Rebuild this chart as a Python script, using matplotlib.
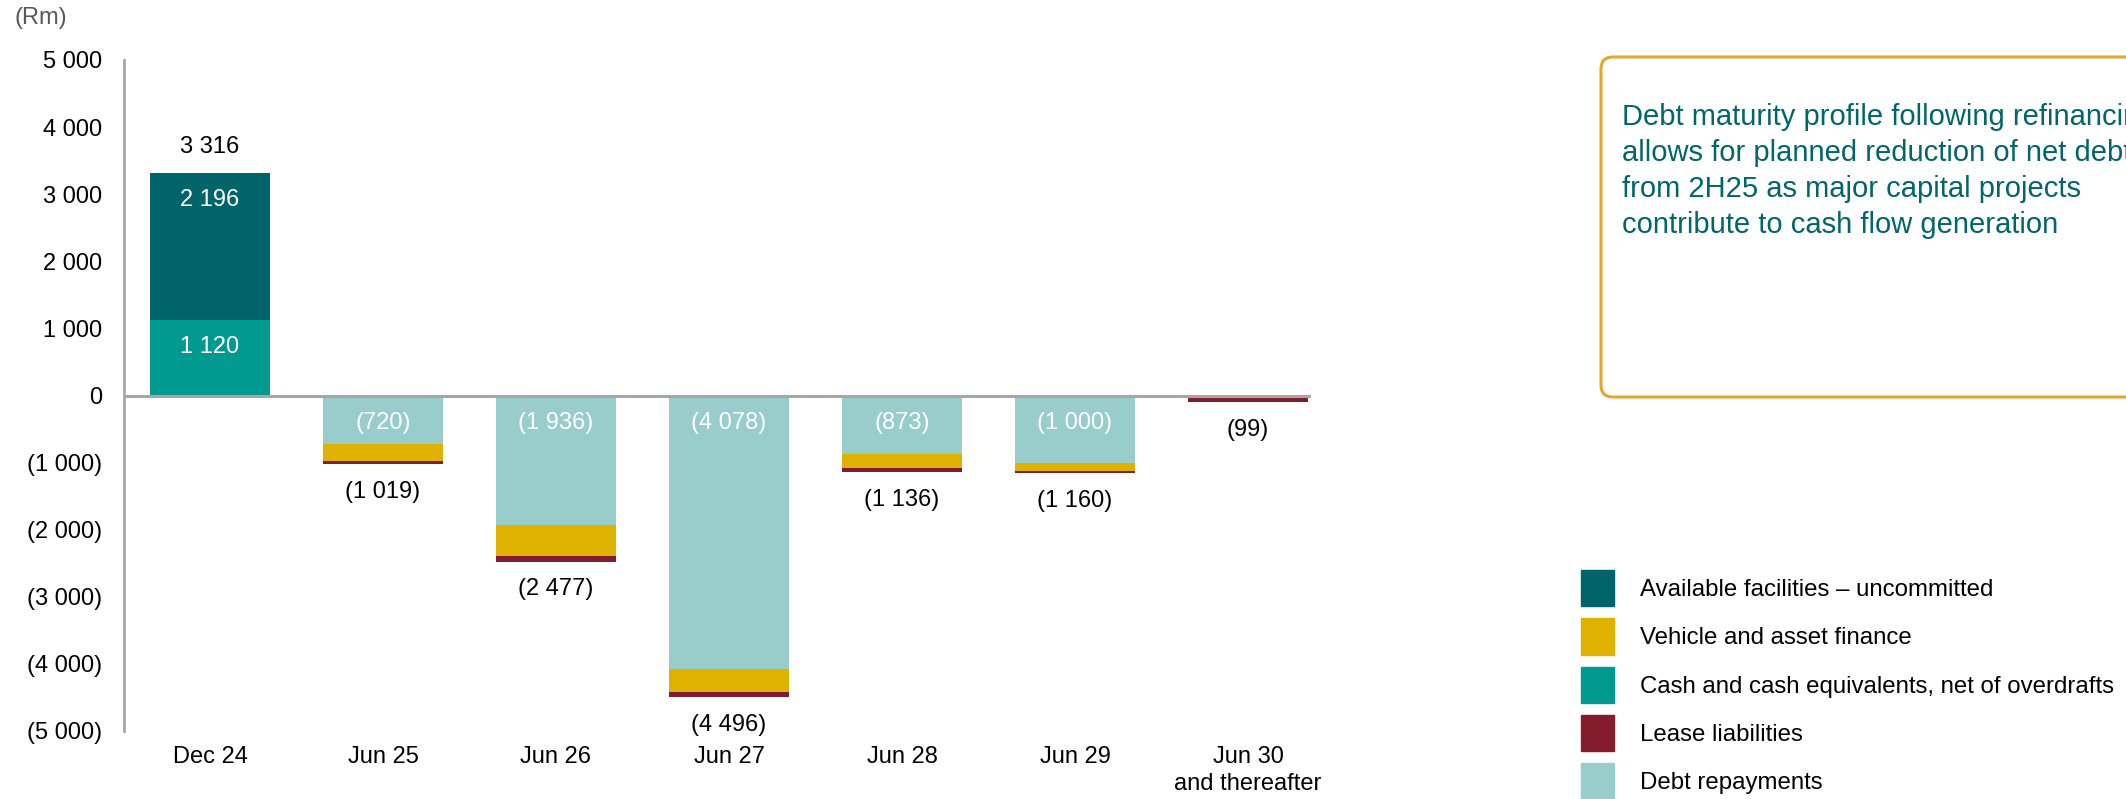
import numpy as np
import matplotlib.pyplot as plt
from matplotlib.patches import FancyBboxPatch, Patch
from matplotlib.transforms import IdentityTransform

plt.rcParams['font.family'] = ['Liberation Sans', 'DejaVu Sans']

# Debt maturity profile (Rm)
periods = ['Dec 24', 'Jun 25', 'Jun 26', 'Jun 27', 'Jun 28', 'Jun 29', 'Jun 30\nand thereafter']
cash = [1120, 0, 0, 0, 0, 0, 0]
facilities = [2196, 0, 0, 0, 0, 0, 0]
debt_repayments = [0, -720, -1936, -4078, -873, -1000, 0]
vehicle_finance = [0, -259, -451, -338, -208, -120, -25]
lease_liabilities = [0, -40, -90, -80, -55, -40, -74]
y_ticks = [5000, 4000, 3000, 2000, 1000, 0, -1000, -2000, -3000, -4000, -5000]

legend_labels = ['Available facilities – uncommitted', 'Vehicle and asset finance',
                 'Cash and cash equivalents, net of overdrafts', 'Lease liabilities',
                 'Debt repayments']
note = ('Debt maturity profile following refinancing\n'
        'allows for planned reduction of net debt\n'
        'from 2H25 as major capital projects\n'
        'contribute to cash flow generation')

C_FAC = '#00646A'
C_VEH = '#DFB100'
C_CASH = '#009A91'
C_LEASE = '#841C2D'
C_DEBT = '#98CDCC'
C_AXIS = '#A6A6A6'


def fmt(v):
    s = f'{abs(v):,}'.replace(',', ' ')
    return f'({s})' if v < 0 else s


W, H = 2126, 799
fig = plt.figure(figsize=(W / 100, H / 100), dpi=100)
ax = fig.add_axes([124 / W, 1 - 731 / H, (1311 - 124) / W, (731 - 60) / H])

x = np.arange(len(periods))
width = 0.69
neg_base = np.add(debt_repayments, vehicle_finance)

ax.bar(x, cash, width, color=C_CASH, zorder=2)
ax.bar(x, facilities, width, bottom=cash, color=C_FAC, zorder=2)
ax.bar(x, debt_repayments, width, color=C_DEBT, zorder=2)
ax.bar(x, vehicle_finance, width, bottom=debt_repayments, color=C_VEH, zorder=2)
ax.bar(x, lease_liabilities, width, bottom=neg_base, color=C_LEASE, zorder=2)

ax.axhline(0, color=C_AXIS, lw=2.2, zorder=3)

lab = dict(textcoords='offset points', ha='center', va='center', fontsize=17)
totals = np.sum([cash, facilities, debt_repayments, vehicle_finance, lease_liabilities], axis=0)
for i in x:
    # values written inside the segments
    if cash[i]:
        ax.annotate(fmt(cash[i]), (i, cash[i]), xytext=(0, -19.5), color='white', **lab)
    if facilities[i]:
        ax.annotate(fmt(facilities[i]), (i, cash[i] + facilities[i]), xytext=(0, -19.5),
                    color='white', **lab)
    if debt_repayments[i]:
        ax.annotate(fmt(debt_repayments[i]), (i, 0), xytext=(0, -19.5), color='white', **lab)
    # totals outside the bars
    off = 18.5 if totals[i] > 0 else -20
    ax.annotate(fmt(int(totals[i])), (i, totals[i]), xytext=(0, off), color='black', **lab)

ax.set_xlim(-0.497, 6.364)
ax.set_ylim(-5000, 5000)
ax.set_yticks(y_ticks)
ax.set_yticklabels([fmt(t) for t in y_ticks])
ax.set_xticks(x)
ax.set_xticklabels(periods, linespacing=1.25)
ax.tick_params(axis='y', length=0, pad=16, labelsize=17)
ax.tick_params(axis='x', length=0, pad=11, labelsize=17)

for side in ['top', 'right', 'bottom']:
    ax.spines[side].set_visible(False)
ax.spines['left'].set_color(C_AXIS)
ax.spines['left'].set_linewidth(2)

fig.text(41 / W, 1 - 18 / H, '(Rm)', ha='center', va='center', fontsize=17, color='#595959')

# legend
handles = [Patch(color=c) for c in [C_FAC, C_VEH, C_CASH, C_LEASE, C_DEBT]]
fig.legend(handles, legend_labels, loc='upper left', bbox_to_anchor=(1581 / W, 1 - 570 / H),
           frameon=False, fontsize=17.3, handlelength=1.37, handleheight=1.95,
           handletextpad=1.1, labelspacing=0.5, borderpad=0, borderaxespad=0)

# commentary box
box = FancyBboxPatch((1601, H - 397), 700, 340, boxstyle='round,pad=0,rounding_size=12',
                     transform=IdentityTransform(), fc='white', ec='#E2A829', lw=2.2)
fig.add_artist(box)
fig.text(1622 / W, 1 - 171 / H, note, ha='left', va='center', fontsize=21,
         color='#00666B', linespacing=1.35)

fig.savefig('out.png', dpi=100)
